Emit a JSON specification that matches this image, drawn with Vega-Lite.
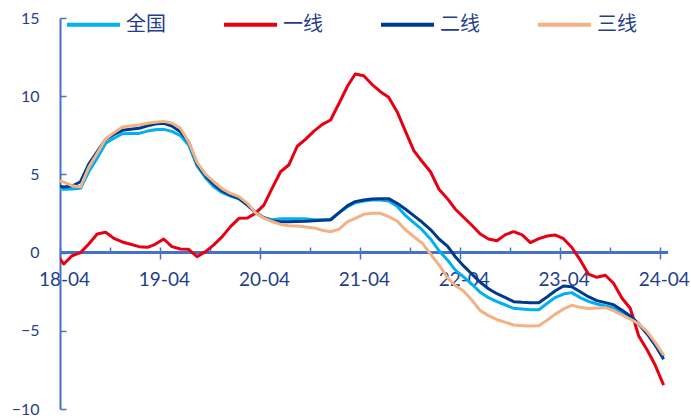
{
  "$schema": "https://vega.github.io/schema/vega-lite/v6.json",
  "width": 608,
  "height": 391,
  "autosize": {"type": "none"},
  "padding": {"left": 60, "top": 18, "right": 23, "bottom": 10},
  "background": "white",
  "config": {"view": {"stroke": null}, "font": "Lato"},
  "data": {"values": [
    {"d": "2018-03-15", "全国": 4.15, "一线": -0.05, "二线": 4.3, "三线": 4.65},
    {"d": "2018-04-15", "全国": 4.05, "一线": -0.73, "二线": 4.19, "三线": 4.51},
    {"d": "2018-05-15", "全国": 4.07, "一线": -0.2, "二线": 4.26, "三线": 4.28},
    {"d": "2018-06-15", "全国": 4.11, "一线": 0.0, "二线": 4.53, "三线": 4.2},
    {"d": "2018-07-15", "全国": 5.17, "一线": 0.55, "二线": 5.66, "三线": 5.45},
    {"d": "2018-08-15", "全国": 6.03, "一线": 1.19, "二线": 6.45, "三线": 6.35},
    {"d": "2018-09-15", "全国": 6.99, "一线": 1.3, "二线": 7.24, "三线": 7.26},
    {"d": "2018-10-15", "全国": 7.31, "一线": 0.91, "二线": 7.56, "三线": 7.67},
    {"d": "2018-11-15", "全国": 7.6, "一线": 0.68, "二线": 7.82, "三线": 8.03},
    {"d": "2018-12-15", "全国": 7.62, "一线": 0.53, "二线": 7.88, "三线": 8.09},
    {"d": "2019-01-15", "全国": 7.62, "一线": 0.38, "二线": 7.95, "三线": 8.16},
    {"d": "2019-02-15", "全国": 7.77, "一线": 0.34, "二线": 8.11, "三线": 8.27},
    {"d": "2019-03-15", "全国": 7.86, "一线": 0.53, "二线": 8.22, "三线": 8.33},
    {"d": "2019-04-15", "全国": 7.88, "一线": 0.87, "二线": 8.27, "三线": 8.39},
    {"d": "2019-05-15", "全国": 7.75, "一线": 0.38, "二线": 8.09, "三线": 8.29},
    {"d": "2019-06-15", "全国": 7.48, "一线": 0.23, "二线": 7.73, "三线": 7.95},
    {"d": "2019-07-15", "全国": 6.88, "一线": 0.21, "二线": 7.09, "三线": 7.09},
    {"d": "2019-08-15", "全国": 5.54, "一线": -0.26, "二线": 5.66, "三线": 5.77},
    {"d": "2019-09-15", "全国": 4.77, "一线": 0.06, "二线": 4.9, "三线": 5.0},
    {"d": "2019-10-15", "全国": 4.21, "一线": 0.49, "二线": 4.37, "三线": 4.53},
    {"d": "2019-11-15", "全国": 3.83, "一线": 1.02, "二线": 3.94, "三线": 4.07},
    {"d": "2019-12-15", "全国": 3.62, "一线": 1.66, "二线": 3.68, "三线": 3.79},
    {"d": "2020-01-15", "全国": 3.43, "一线": 2.19, "二线": 3.47, "三线": 3.58},
    {"d": "2020-02-15", "全国": 3.04, "一线": 2.21, "二线": 3.04, "三线": 3.15},
    {"d": "2020-03-15", "全国": 2.6, "一线": 2.51, "二线": 2.55, "三线": 2.55},
    {"d": "2020-04-15", "全国": 2.23, "一线": 3.04, "二线": 2.23, "三线": 2.21},
    {"d": "2020-05-15", "全国": 2.1, "一线": 4.11, "二线": 2.02, "三线": 1.99},
    {"d": "2020-06-15", "全国": 2.16, "一线": 5.17, "二线": 1.98, "三线": 1.8},
    {"d": "2020-07-15", "全国": 2.17, "一线": 5.6, "二线": 1.98, "三线": 1.72},
    {"d": "2020-08-15", "全国": 2.17, "一线": 6.8, "二线": 1.99, "三线": 1.7},
    {"d": "2020-09-15", "全国": 2.16, "一线": 7.26, "二线": 2.0, "三线": 1.64},
    {"d": "2020-10-15", "全国": 2.1, "一线": 7.77, "二线": 2.03, "三线": 1.58},
    {"d": "2020-11-15", "全国": 2.1, "一线": 8.2, "二线": 2.07, "三线": 1.43},
    {"d": "2020-12-15", "全国": 2.1, "一线": 8.48, "二线": 2.1, "三线": 1.33},
    {"d": "2021-01-15", "全国": 2.55, "一线": 9.55, "二线": 2.55, "三线": 1.5},
    {"d": "2021-02-15", "全国": 2.94, "一线": 10.65, "二线": 3.0, "三线": 1.98},
    {"d": "2021-03-15", "全国": 3.19, "一线": 11.42, "二线": 3.26, "三线": 2.19},
    {"d": "2021-04-15", "全国": 3.3, "一线": 11.31, "二线": 3.36, "三线": 2.45},
    {"d": "2021-05-15", "全国": 3.36, "一线": 10.76, "二线": 3.43, "三线": 2.51},
    {"d": "2021-06-15", "全国": 3.36, "一线": 10.29, "二线": 3.45, "三线": 2.51},
    {"d": "2021-07-15", "全国": 3.3, "一线": 9.93, "二线": 3.45, "三线": 2.3},
    {"d": "2021-08-15", "全国": 2.96, "一线": 9.01, "二线": 3.15, "三线": 2.02},
    {"d": "2021-09-15", "全国": 2.36, "一线": 7.73, "二线": 2.77, "三线": 1.45},
    {"d": "2021-10-15", "全国": 1.91, "一线": 6.52, "二线": 2.36, "三线": 1.02},
    {"d": "2021-11-15", "全国": 1.45, "一线": 5.81, "二线": 1.94, "三线": 0.6},
    {"d": "2021-12-15", "全国": 0.87, "一线": 5.17, "二线": 1.47, "三线": -0.09},
    {"d": "2022-01-15", "全国": 0.12, "一线": 4.05, "二线": 0.87, "三线": -0.79},
    {"d": "2022-02-15", "全国": -0.47, "一线": 3.45, "二线": 0.42, "三线": -1.6},
    {"d": "2022-03-15", "全国": -1.1, "一线": 2.79, "二线": -0.25, "三线": -2.1},
    {"d": "2022-04-15", "全国": -1.55, "一线": 2.26, "二线": -0.85, "三线": -2.46},
    {"d": "2022-05-15", "全国": -2.01, "一线": 1.75, "二线": -1.37, "三线": -3.03},
    {"d": "2022-06-15", "全国": -2.54, "一线": 1.19, "二线": -1.9, "三线": -3.71},
    {"d": "2022-07-15", "全国": -2.88, "一线": 0.87, "二线": -2.31, "三线": -4.03},
    {"d": "2022-08-15", "全国": -3.14, "一线": 0.76, "二线": -2.63, "三线": -4.29},
    {"d": "2022-09-15", "全国": -3.35, "一线": 1.15, "二线": -2.88, "三线": -4.46},
    {"d": "2022-10-15", "全国": -3.56, "一线": 1.34, "二线": -3.14, "三线": -4.63},
    {"d": "2022-11-15", "全国": -3.6, "一线": 1.13, "二线": -3.18, "三线": -4.67},
    {"d": "2022-12-15", "全国": -3.65, "一线": 0.64, "二线": -3.2, "三线": -4.7},
    {"d": "2023-01-15", "全国": -3.65, "一线": 0.89, "二线": -3.2, "三线": -4.67},
    {"d": "2023-02-15", "全国": -3.24, "一线": 1.06, "二线": -2.82, "三线": -4.31},
    {"d": "2023-03-15", "全国": -2.88, "一线": 1.13, "二线": -2.46, "三线": -3.95},
    {"d": "2023-04-15", "全国": -2.65, "一线": 0.89, "二线": -2.14, "三线": -3.6},
    {"d": "2023-05-15", "全国": -2.56, "一线": 0.34, "二线": -2.18, "三线": -3.37},
    {"d": "2023-06-15", "全国": -2.88, "一线": -0.47, "二线": -2.5, "三线": -3.5},
    {"d": "2023-07-15", "全国": -3.12, "一线": -1.37, "二线": -2.82, "三线": -3.58},
    {"d": "2023-08-15", "全国": -3.29, "一线": -1.58, "二线": -3.07, "三线": -3.54},
    {"d": "2023-09-15", "全国": -3.41, "一线": -1.45, "二线": -3.2, "三线": -3.52},
    {"d": "2023-10-15", "全国": -3.54, "一线": -1.96, "二线": -3.33, "三线": -3.71},
    {"d": "2023-11-15", "全国": -3.84, "一线": -2.92, "二线": -3.69, "三线": -3.99},
    {"d": "2023-12-15", "全国": -4.16, "一线": -3.56, "二线": -4.05, "三线": -4.25},
    {"d": "2024-01-15", "全国": -4.58, "一线": -5.33, "二线": -4.56, "三线": -4.56},
    {"d": "2024-02-15", "全国": -5.16, "一线": -6.23, "二线": -5.2, "三线": -5.06},
    {"d": "2024-03-15", "全国": -5.87, "一线": -7.19, "二线": -5.91, "三线": -5.74},
    {"d": "2024-04-15", "全国": -6.65, "一线": -8.47, "二线": -6.82, "三线": -6.55}
  ]},
  "layer": [
    {
      "mark": {"type": "rule", "color": "#4472C4", "strokeWidth": 2},
      "encoding": {"y": {"datum": 0, "type": "quantitative", "title": null}}
    },
    {
      "transform": [{"fold": ["全国", "一线", "二线", "三线"], "as": ["series", "value"]}],
      "mark": {"type": "line", "strokeWidth": 3, "clip": true, "strokeJoin": "round"},
      "encoding": {
        "x": {
          "field": "d", "type": "temporal",
          "scale": {"type": "utc", "domain": [{"year": 2018, "month": 4, "date": 1, "utc": true}, {"year": 2024, "month": 5, "date": 1, "utc": true}]},
          "axis": {
            "orient": "bottom", "offset": -162, "domain": false, "grid": false, "title": null,
            "values": [
              {"year": 2018, "month": 4, "date": 1, "utc": true},
              {"year": 2018, "month": 10, "date": 1, "utc": true},
              {"year": 2019, "month": 4, "date": 1, "utc": true},
              {"year": 2019, "month": 10, "date": 1, "utc": true},
              {"year": 2020, "month": 4, "date": 1, "utc": true},
              {"year": 2020, "month": 10, "date": 1, "utc": true},
              {"year": 2021, "month": 4, "date": 1, "utc": true},
              {"year": 2021, "month": 10, "date": 1, "utc": true},
              {"year": 2022, "month": 4, "date": 1, "utc": true},
              {"year": 2022, "month": 10, "date": 1, "utc": true},
              {"year": 2023, "month": 4, "date": 1, "utc": true},
              {"year": 2023, "month": 10, "date": 1, "utc": true},
              {"year": 2024, "month": 4, "date": 1, "utc": true}
            ],
            "labelExpr": "utcmonth(datum.value) == 3 ? utcFormat(datum.value, '%y-%m') : ''",
            "tickSize": {"condition": {"test": "utcmonth(datum.value) == 3", "value": 12}, "value": 6},
            "tickColor": "#4472C4", "tickWidth": 1.5,
            "labelFont": "Lato", "labelFontSize": 19, "labelColor": "#1F3F8C",
            "labelPadding": 11, "labelOffset": 4, "labelFlush": false, "labelOverlap": false, "labelBound": false
          }
        },
        "y": {
          "field": "value", "type": "quantitative",
          "scale": {"domain": [-10, 15], "nice": false, "zero": false},
          "axis": {
            "values": [-10, -5, 0, 5, 10, 15], "title": null, "grid": false,
            "domain": true, "domainColor": "#4472C4", "domainWidth": 2,
            "ticks": true, "tickSize": -6, "tickColor": "#4472C4", "tickWidth": 1.5,
            "labelFont": "Lato", "labelFontSize": 16, "labelColor": "#1F3F8C", "labelPadding": 27
          }
        },
        "color": {
          "field": "series", "type": "nominal",
          "scale": {"domain": ["全国", "一线", "二线", "三线"], "range": ["#00B0F0", "#E60012", "#003A8C", "#F4B183"]},
          "legend": {
            "orient": "none", "legendX": 5, "legendY": -22, "direction": "horizontal", "columns": 4,
            "title": null, "symbolType": "stroke", "symbolSize": 2809, "symbolStrokeWidth": 4,
            "labelFont": "Noto Sans CJK SC", "labelFontSize": 20, "labelColor": "#1F3F8C",
            "labelOffset": 4, "columnPadding": 50, "padding": 0, "rowPadding": 0
          }
        }
      }
    }
  ]
}
